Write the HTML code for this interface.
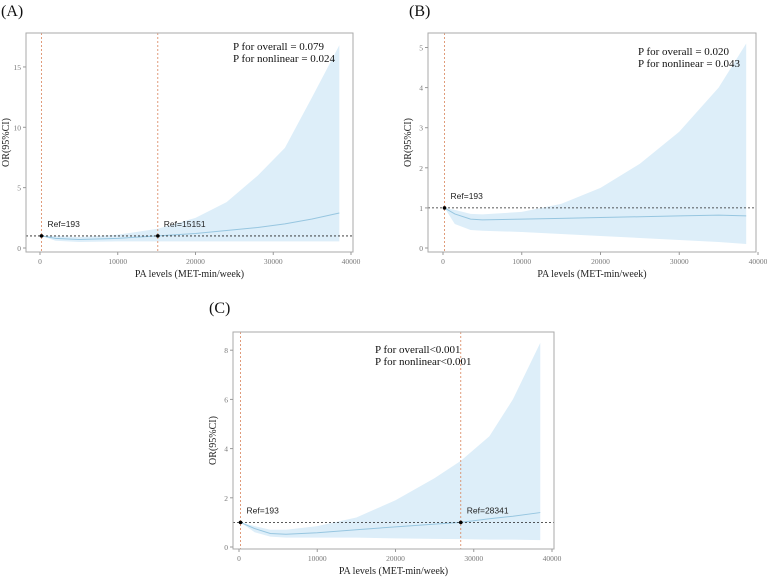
<!DOCTYPE html>
<html><head><meta charset="utf-8"><style>
body{margin:0;background:#fff;}
svg{display:block;}
.ser{font-family:"Liberation Serif",serif;}
.san{font-family:"Liberation Sans",sans-serif;}
</style></head><body>
<svg id="c" width="767" height="578" xmlns="http://www.w3.org/2000/svg"></svg>
<script>
// Panel A data
const xA=[193,2000,5000,10000,15151,20000,24000,28000,31500,35000,38500];
const estA=[1,0.8,0.7,0.8,1.0,1.2,1.45,1.7,2.0,2.4,2.9];
const loA=[1,0.6,0.5,0.55,0.55,0.55,0.55,0.55,0.55,0.55,0.55];
const hiA=[1,1.0,0.9,1.1,1.6,2.5,3.8,6,8.3,12.5,16.8];
const refsA=[193,15151];
const yTicksA=[0,5,10,15];
// Panel B data
const xB=[193,1500,3500,5000,10000,15000,20000,25000,30000,35000,38500];
const estB=[1,0.85,0.72,0.7,0.72,0.74,0.76,0.78,0.8,0.82,0.8];
const loB=[1,0.6,0.45,0.43,0.4,0.35,0.3,0.25,0.2,0.15,0.1];
const hiB=[1,0.95,0.85,0.84,0.9,1.1,1.5,2.1,2.9,4.0,5.1];
const refsB=[193];
const yTicksB=[0,1,2,3,4,5];
// Panel C data
const xC=[193,2000,4000,6000,10000,15000,20000,25000,28341,32000,35000,38500];
const estC=[1,0.75,0.55,0.52,0.58,0.7,0.82,0.93,1.0,1.15,1.25,1.4];
const loC=[1,0.6,0.42,0.38,0.38,0.38,0.35,0.33,0.32,0.3,0.3,0.28];
const hiC=[1,0.85,0.7,0.7,0.85,1.2,1.9,2.8,3.5,4.5,6,8.3];
const refsC=[193,28341];
const yTicksC=[0,2,4,6,8];
const xTicks=[0,10000,20000,30000,40000];

const svg=document.getElementById('c');
const NS='http://www.w3.org/2000/svg';
function mk(tag,attrs,parent){const e=document.createElementNS(NS,tag);for(const k in attrs)e.setAttribute(k,attrs[k]);(parent||svg).appendChild(e);return e;}

function panel(cfg){
  const g=mk('g',{});
  
  
  const sx=v=>cfg.x0+v/40000*(cfg.x40-cfg.x0);
  const sy=v=>cfg.y0-v*cfg.ppu;
  const lab=mk('text',{x:cfg.lx,y:cfg.ly,'font-size':16,class:'ser',fill:'#111'},g);lab.textContent='('+cfg.id+')';
  
  
  let d='';
  cfg.xs.forEach((x,i)=>{d+=(i?'L':'M')+sx(x)+','+sy(cfg.hi[i]);});
  for(let i=cfg.xs.length-1;i>=0;i--)d+='L'+sx(cfg.xs[i])+','+sy(cfg.lo[i]);
  const band=mk('path',{d:d+'Z',fill:'#ddeef9',stroke:'none'},g);
  
  
  let l='';cfg.xs.forEach((x,i)=>{l+=(i?'L':'M')+sx(x)+','+sy(cfg.est[i]);});
  const line=mk('path',{d:l,fill:'none',stroke:'#97c6e0','stroke-width':1},g);
  
  
  const hl=mk('line',{x1:cfg.fx1,x2:cfg.fx2,y1:sy(1),y2:sy(1),stroke:'#222','stroke-dasharray':'2,2','stroke-width':0.8},g);
  
  
  cfg.refs.forEach(r=>{
    const vl=mk('line',{x1:sx(r),x2:sx(r),y1:cfg.fy1,y2:cfg.fy2,stroke:'#d9835a','stroke-dasharray':'2,2','stroke-width':0.8},g);
    
    
    const pt=mk('circle',{cx:sx(r),cy:sy(1),r:1.8,fill:'#000'},g);
    
    
    const t=mk('text',{x:sx(r)+6,y:sy(1)-9,'font-size':8.5,class:'san',fill:'#222'},g);t.textContent='Ref='+r;
    
    
  });
  const fr=mk('rect',{x:cfg.fx1,y:cfg.fy1,width:cfg.fx2-cfg.fx1,height:cfg.fy2-cfg.fy1,fill:'none',stroke:'#aaa','stroke-width':1},g);
  
  
  xTicks.forEach(v=>{
    mk('line',{x1:sx(v),x2:sx(v),y1:cfg.fy2,y2:cfg.fy2+3,stroke:'#999'},g);
    const t=mk('text',{x:sx(v),y:cfg.fy2+12,'font-size':7.5,class:'ser',fill:'#777','text-anchor':'middle'},g);t.textContent=v;
    
    
  });
  cfg.yt.forEach(v=>{
    mk('line',{x1:cfg.fx1-3,x2:cfg.fx1,y1:sy(v),y2:sy(v),stroke:'#999'},g);
    const t=mk('text',{x:cfg.fx1-5,y:sy(v)+3,'font-size':7.5,class:'ser',fill:'#777','text-anchor':'end'},g);t.textContent=v;
    
    
  });
  const xt=mk('text',{x:(cfg.fx1+cfg.fx2)/2,y:cfg.fy2+25,'font-size':10,class:'ser',fill:'#222','text-anchor':'middle'},g);xt.textContent='PA levels (MET-min/week)';
  
  
  const yc=(cfg.fy1+cfg.fy2)/2;
  const yt=mk('text',{x:cfg.fx1-17,y:yc,'font-size':10,class:'ser',fill:'#222','text-anchor':'middle',transform:'rotate(-90 '+(cfg.fx1-17)+' '+yc+')'},g);yt.textContent='OR(95%CI)';
  
  
  cfg.p.forEach((s,i)=>{
    const t=mk('text',{x:cfg.px,y:cfg.py+i*12,'font-size':11,class:'ser',fill:'#111'},g);t.textContent=s;
    
    
  });
}
panel({id:'A',lx:1,ly:16,x0:40,x40:351,y0:248,ppu:12.07,fx1:26,fx2:353,fy1:33,fy2:252,xs:xA,est:estA,lo:loA,hi:hiA,refs:refsA,yt:yTicksA,px:233,py:50,p:['P for overall = 0.079','P for nonlinear = 0.024']});
panel({id:'B',lx:409,ly:16,x0:443,x40:758,y0:248,ppu:40.1,fx1:428,fx2:756,fy1:33,fy2:252,xs:xB,est:estB,lo:loB,hi:hiB,refs:refsB,yt:yTicksB,px:638,py:55,p:['P for overall = 0.020','P for nonlinear = 0.043']});
panel({id:'C',lx:209,ly:313,x0:239,x40:552,y0:547,ppu:24.6,fx1:233,fx2:554,fy1:332,fy2:549,xs:xC,est:estC,lo:loC,hi:hiC,refs:refsC,yt:yTicksC,px:375,py:353,p:['P for overall<0.001','P for nonlinear<0.001']});
</script>
</body></html>
